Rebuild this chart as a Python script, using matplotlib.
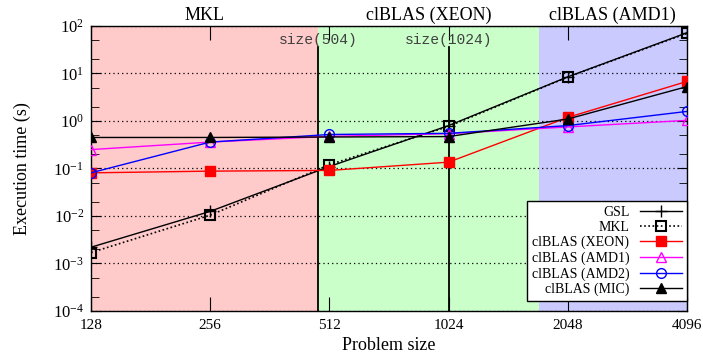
import matplotlib
matplotlib.use('Agg')
import matplotlib.pyplot as plt
import matplotlib.ticker as mticker

# --- data ---
sizes = [128, 256, 512, 1024, 2048, 4096]
gsl = [0.0022, 0.0125, 0.11, 0.80, 8.5, 72]
mkl = [0.0017, 0.0104, 0.12, 0.77, 8.4, 70]
cl_xeon = [0.081, 0.088, 0.091, 0.136, 1.19, 6.8]
cl_amd1 = [0.25, 0.36, 0.475, 0.54, 0.75, 1.03]
cl_amd2 = [0.081, 0.36, 0.52, 0.55, 0.80, 1.59]
cl_mic = [0.45, 0.45, 0.46, 0.47, 1.1, 5.3]

region_names = ["MKL", "clBLAS (XEON)", "clBLAS (AMD1)"]
region_edges = [128, 480, 1730, 4096]
region_colors = ["#ffcaca", "#caffca", "#cacaff"]
marker_sizes = [480, 1024]
marker_labels = ["size(504)", "size(1024)"]

plt.rcParams['font.family'] = ['Liberation Serif', 'DejaVu Serif']
plt.rcParams['mathtext.default'] = 'regular'

fig = plt.figure(figsize=(7.03, 3.56), dpi=100)
ax = fig.add_axes([0.1294, 0.1264, 0.8478, 0.8006])

# фонові області
for i, name in enumerate(region_names):
    lo, hi = region_edges[i], region_edges[i + 1]
    ax.axvspan(lo, hi, color=region_colors[i], zorder=0, lw=0)
    ax.text((lo * hi) ** 0.5, 1.02, name, transform=ax.get_xaxis_transform(),
            ha='center', va='baseline', fontsize=13)

# вертикальні лінії розмірів
for xs, lab in zip(marker_sizes, marker_labels):
    ax.plot([xs, xs], [0, 0.926], color='black', lw=1.3,
            transform=ax.get_xaxis_transform(), zorder=2)
    ax.text(xs, 0.951, lab, transform=ax.get_xaxis_transform(), ha='center',
            va='center', fontsize=10.5, family='Liberation Mono', color='#404040')

# серії
ax.plot(sizes, gsl, color='black', lw=1.0, marker='+', ms=9, mew=1.0,
        label='GSL', zorder=4)
ax.plot(sizes, mkl, color='black', lw=1.2, ls=(0, (1, 1.5)), marker='s', ms=7,
        mfc='none', mew=1.5, label='MKL', zorder=4)
ax.plot(sizes, cl_xeon, color='red', lw=1.0, marker='s', ms=7, mec='red',
        label='clBLAS (XEON)', zorder=4)
ax.plot(sizes, cl_amd1, color='magenta', lw=1.0, marker='^', ms=7, mfc='none',
        label='clBLAS (AMD1)', zorder=4)
ax.plot(sizes, cl_amd2, color='blue', lw=1.0, marker='o', ms=7, mfc='none',
        label='clBLAS (AMD2)', zorder=4)
ax.plot(sizes, cl_mic, color='black', lw=1.0, marker='^', ms=7,
        label='clBLAS (MIC)', zorder=4)

# осі
ax.set_xscale('log', base=2)
ax.set_yscale('log')
ax.set_xlim(128, 4096)
ax.set_ylim(1e-4, 1e2)
ax.set_xticks(sizes)
ax.xaxis.set_major_formatter(mticker.FuncFormatter(lambda v, _: f"{int(v)}"))
ax.xaxis.set_minor_locator(mticker.NullLocator())
ax.yaxis.set_major_locator(mticker.LogLocator(base=10, numticks=10))
ax.yaxis.set_minor_locator(mticker.LogLocator(base=10, subs=(2, 5), numticks=20))
ax.yaxis.set_minor_formatter(mticker.NullFormatter())
ax.tick_params(axis='x', which='major', direction='in', top=True, length=10,
               labelsize=11, pad=6)
ax.tick_params(axis='y', which='major', direction='in', right=True, length=7,
               labelsize=12, pad=5)
ax.tick_params(axis='y', which='minor', direction='in', right=True, length=6)
ax.yaxis.grid(True, which='major', ls=(0, (1, 2.5)), color='black', lw=0.9)
ax.set_axisbelow(False)
for sp in ax.spines.values():
    sp.set_linewidth(1.0)

ax.set_xlabel('Problem size', fontsize=13, labelpad=3)
ax.set_ylabel('Execution time (s)', fontsize=13, labelpad=16)

leg = ax.legend(loc='lower right', bbox_to_anchor=(1.0, 0.035), borderaxespad=0,
                markerfirst=False, fontsize=10, labelspacing=0.15, handlelength=3.0,
                handletextpad=0.8, borderpad=0.35, fancybox=False, framealpha=1,
                edgecolor='black')
leg.get_frame().set_linewidth(1.0)
leg.set_zorder(5)

plt.savefig('out.png', dpi=100)
